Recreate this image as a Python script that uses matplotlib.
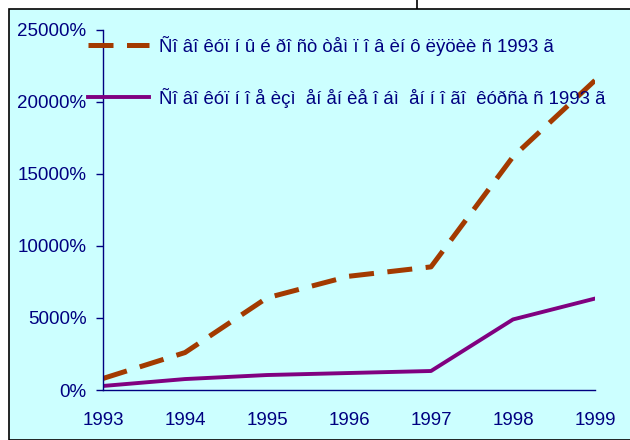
import matplotlib
matplotlib.use("Agg")
import matplotlib.pyplot as plt
from matplotlib.patches import Rectangle
from matplotlib.lines import Line2D
from matplotlib.ticker import FuncFormatter

years = [1993, 1994, 1995, 1996, 1997, 1998, 1999]
inflation = [800, 2600, 6400, 7900, 8550, 16200, 21500]
exchange = [280, 760, 1040, 1180, 1320, 4900, 6350]
label_inflation = "Ñî âî êóï í û é ðî ñò òåì ï î â èí ô ëÿöèè ñ 1993 ã"
label_exchange = "Ñî âî êóï í î å èçì  åí åí èå î áì  åí í î ãî  êóðñà ñ 1993 ã"
yticks = [0, 5000, 10000, 15000, 20000, 25000]

navy = "#000080"
plt.rcParams['font.family'] = ['Liberation Sans', 'DejaVu Sans']

W, H = 630, 440
fig = plt.figure(figsize=(W / 100, H / 100), dpi=100)
fig.patch.set_facecolor("white")

# background panel
fig.patches.append(Rectangle((9 / W, 0), 1.0, 1 - 9 / H, transform=fig.transFigure,
                             facecolor="#CCFFFF", edgecolor="black", linewidth=1.2, zorder=-10))
fig.lines.append(Line2D([417 / W, 417 / W], [1 - 9 / H, 1], transform=fig.transFigure,
                        color="black", linewidth=1.2, zorder=-10))

ax = fig.add_axes([103 / W, 1 - 390 / H, (595 - 103) / W, (390 - 30) / H])
ax.set_zorder(5)
ax.set_facecolor("none")

ax.plot(years, inflation, color="#A33A00", linewidth=3.6, dashes=(5.0, 2.7), label=label_inflation)
ax.plot(years, exchange, color="#800080", linewidth=2.8, label=label_exchange)

ax.set_xlim(1993, 1999)
ax.set_ylim(0, 25000)
ax.set_xticks(years)
ax.set_xticklabels([str(y) for y in years])
ax.set_yticks(yticks)
ax.yaxis.set_major_formatter(FuncFormatter(lambda v, p: f"{int(v)}%"))

for s in ["top", "right"]:
    ax.spines[s].set_visible(False)
for s in ["left", "bottom"]:
    ax.spines[s].set_color(navy)
    ax.spines[s].set_linewidth(1.0)

ax.tick_params(axis="y", colors=navy, labelcolor=navy, labelsize=13.5, length=5, width=1, pad=7)
ax.tick_params(axis="x", colors=navy, labelcolor=navy, labelsize=13.5, length=0, pad=16)

leg = ax.legend(loc="upper left", bbox_to_anchor=(88 / W, 1 - 36 / H), bbox_transform=fig.transFigure,
                frameon=False, fontsize=13.4, handlelength=3.3, handletextpad=0.5,
                labelspacing=1.7, borderpad=0, borderaxespad=0)
for t in leg.get_texts():
    t.set_color(navy)

fig.savefig("out.png", dpi=100)
